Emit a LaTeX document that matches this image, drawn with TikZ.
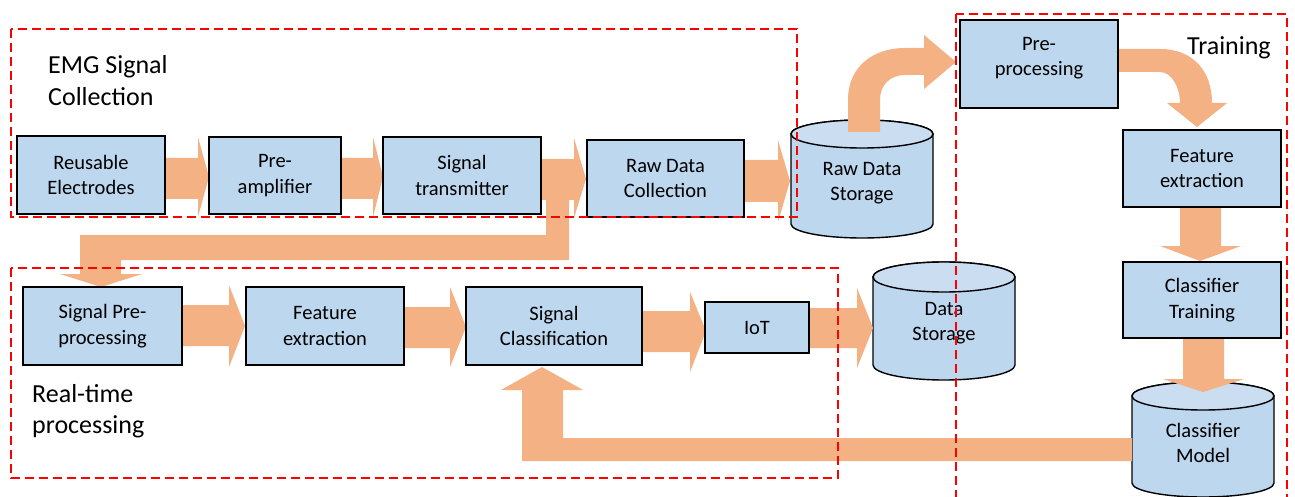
\documentclass[tikz,border=0pt]{standalone}
\usepackage{fontspec}
\setmainfont{Carlito}
\definecolor{arrfill}{HTML}{F4B183}
\definecolor{boxfill}{HTML}{BDD7EE}
\definecolor{topfill}{HTML}{CADDF1}
\definecolor{framered}{HTML}{FF0000}
% horizontal block arrow: xstart, xheadstart, xtip, shafttop, shaftbot, headtop, headbot, tipy
\newcommand{\harrow}[8]{\fill[arr] (#1,#4) -- (#2,#4) -- (#2,#6) -- (#3,#8) -- (#2,#7) -- (#2,#5) -- (#1,#5) -- cycle;}
% vertical block arrow: xleft, xright, ystart, yheadstart, headleft, headright, tipx, tipy
\newcommand{\varrow}[8]{\fill[arr] (#1,#3) -- (#1,#4) -- (#5,#4) -- (#7,#8) -- (#6,#4) -- (#2,#4) -- (#2,#3) -- cycle;}
% cylinder: cx, top, bottom, rx, ry
\newcommand{\cylshape}[5]{%
  \filldraw[cylline, fill=boxfill] ({#1-#4},{#2+#5}) -- ({#1-#4},{#3-#5})
    arc[start angle=180,end angle=360,x radius=#4pt,y radius=#5pt]
    -- ({#1+#4},{#2+#5})
    arc[start angle=0,end angle=180,x radius=#4pt,y radius=#5pt] -- cycle;
  \filldraw[cylline, fill=topfill] (#1,{#2+#5}) ellipse[x radius=#4pt,y radius=#5pt];}
\begin{document}
\begin{tikzpicture}[x=1pt,y=-1pt,
  arr/.style={fill=arrfill},
  cylline/.style={draw=black,line width=1.4pt},
  box/.style={draw=black,line width=1.4pt,fill=boxfill,inner sep=0pt,align=center,
    font=\fontsize{20.5}{25.5}\selectfont},
  cyltxt/.style={inner sep=0pt,align=center,font=\fontsize{20.5}{25.5}\selectfont},
  lbl/.style={inner sep=0pt,anchor=base west,font=\fontsize{26}{32}\selectfont},
  frame/.style={draw=framered,line width=1.6pt,dash pattern=on 9pt off 5pt}]
\useasboundingbox (0,0) rectangle (1295,497);
\clip (0,0) rectangle (1295,497);
\fill[white] (0,0) rectangle (1295,497);

% cylinders
\cylshape{862}{120}{238}{71}{14}
\cylshape{944}{262}{380}{71}{15}
\cylshape{1203}{382}{497}{71}{14}
\node[cyltxt] (rawstore) at (862,183) {Raw Data\\Storage};
\node[cyltxt] (datastore) at (944,323) {Data\\Storage};
\node[cyltxt] (clsmodel) at (1203,443) {Classifier\\Model};

% block arrows, top row
\harrow{165}{198}{209}{158}{199}{137}{217}{177}
\harrow{341}{373}{383}{158}{199}{137}{217}{177}
\harrow{541}{574}{586}{159}{200}{138}{218}{179}
\harrow{744}{778}{790}{160}{202}{140}{222}{181}
% bottom row
\harrow{182}{229}{245}{305}{346}{285}{367}{326}
\harrow{404}{450}{466}{307}{348}{287}{367}{327}
\harrow{642}{690}{706}{311}{352}{292}{372}{331}
\harrow{809}{857}{873}{308}{348}{288}{368}{328}
% training column
\varrow{1180}{1221}{207}{246}{1160}{1241}{1200}{261}
\varrow{1183}{1224}{338}{379}{1163}{1244}{1203}{392}

% transmitter -> signal pre-processing
\fill[arr] (546,200) -- (569,200) -- (569,260) -- (121,260) -- (121,274) -- (142,274)
  -- (101,287) -- (60,274) -- (80,274) -- (80,235) -- (546,235) -- cycle;
% classifier model -> signal classification
\fill[arr] (1132,438) -- (563,438) -- (563,390) -- (583,390) -- (542,367) -- (501,390)
  -- (522,390) -- (522,461) -- (1132,461) -- cycle;
% raw data storage -> pre-processing (curved)
\fill[arr] (848,132) -- (848,100) .. controls (848,65) and (875,48) .. (905,48)
  -- (924,48) -- (924,35) -- (956,62) -- (924,89) -- (924,75) -- (905,75)
  .. controls (890,75) and (880,85) .. (880,100) -- (880,132) -- cycle;
% pre-processing -> feature extraction (curved)
\fill[arr] (1118,49) -- (1160,49) .. controls (1192,49) and (1212,70) .. (1212,103)
  -- (1227,103) -- (1197,127) -- (1167,103) -- (1180,103)
  .. controls (1180,88) and (1172,72) .. (1160,72) -- (1118,72) -- cycle;

% boxes
\node[box,minimum width=148,minimum height=78] (reuse) at (91,175) {Reusable\\Electrodes};
\node[box,minimum width=132,minimum height=77] (preamp) at (275,175.5) {Pre-\\amplifier};
\node[box,minimum width=158,minimum height=77] (trans) at (462,175.5) {Signal\\transmitter};
\node[box,minimum width=157,minimum height=77] (rawcol) at (665.5,178.5) {Raw Data\\Collection};
\node[box,minimum width=158,minimum height=88] (prep) at (1039,64)
  {\raisebox{6pt}[\height][\depth]{\begin{tabular}{@{}c@{}}Pre-\\processing\end{tabular}}};
\node[box,minimum width=158,minimum height=77] (featT) at (1202,168.5) {Feature\\extraction};
\node[box,minimum width=158,minimum height=76] (clsT) at (1202,300) {Classifier\\Training};
\node[box,minimum width=159,minimum height=78] (sigpre) at (102.5,326) {Signal Pre-\\processing};
\node[box,minimum width=158,minimum height=78] (feat) at (325,326) {Feature\\extraction};
\node[box,minimum width=176,minimum height=78] (sigcls) at (554,326) {Signal\\Classification};
\node[box,minimum width=104,minimum height=51] (iot) at (757,327.5) {IoT};

% group labels
\node[lbl] (emg1) at (48,74) {EMG Signal};
\node[lbl] (emg2) at (48,106) {Collection};
\node[lbl] (train) at (1187,55) {Training};
\node[lbl] (rt1) at (32,402) {Real-time};
\node[lbl] (rt2) at (32,433) {processing};

% dashed group frames
\draw[frame] (11,29) rectangle (797,217);
\draw[frame] (11,268) rectangle (838,478);
\draw[frame] (956,14) rectangle (1287,520);
\end{tikzpicture}
\end{document}
